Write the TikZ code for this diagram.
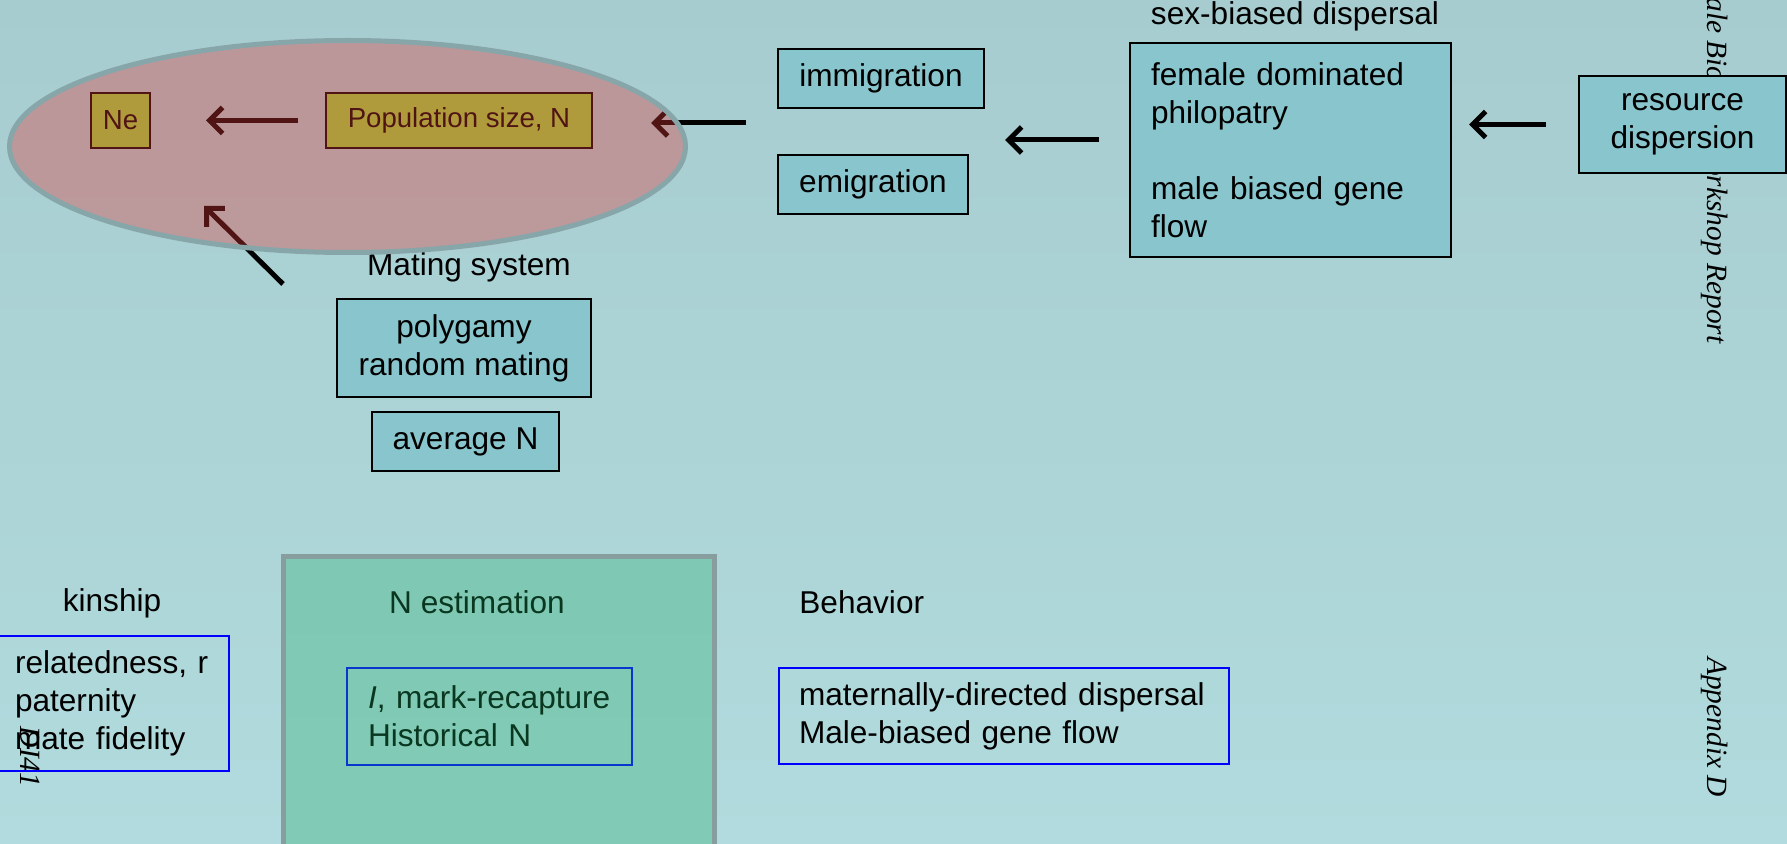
\documentclass[tikz,border=0pt]{standalone}
\usepackage{fontspec}
\setmainfont{Liberation Sans}
\newfontfamily\reportfont{Liberation Serif}
\usetikzlibrary{arrows.meta}

\definecolor{bgtop}{RGB}{167,204,207}
\definecolor{bgmid}{RGB}{158,191,196}
\definecolor{bgbot}{RGB}{177,219,222}
\definecolor{boxteal}{RGB}{136,197,205}
\definecolor{boxgreen}{RGB}{150,212,62}
\definecolor{boxblue}{RGB}{0,0,255}
\definecolor{ovred}{RGB}{222,56,56}
\definecolor{ringgray}{RGB}{135,166,170}
\definecolor{ovgreen}{RGB}{30,172,100}
\definecolor{rectgray}{RGB}{136,158,158}

\begin{document}
\begin{tikzpicture}[x=0.5pt, y=-0.5pt,
    font=\fontsize{15.8}{19}\selectfont,
    tealbox/.style={draw=black, line width=1pt, fill=boxteal, inner sep=0pt, align=center},
    olivebox/.style={draw=black, line width=1pt, fill=boxgreen, inner sep=0pt,
                     font=\fontsize{13.8}{16}\selectfont},
    bluebox/.style={draw=boxblue, line width=1pt, inner ysep=0pt, align=left,
                    font=\fontsize{15.8}{19}\selectfont},
    arr/.style={line width=2.5pt, -{Straight Barb[length=6.5pt, width=13pt]}},
    vtext/.style={rotate=-90, inner sep=0pt, font=\reportfont\itshape\fontsize{14.7}{17}\selectfont}]

    \useasboundingbox (0,0) rectangle (1787,844);

    % Background
    \fill[top color=bgtop, middle color=bgmid, bottom color=bgbot] (0,0) rectangle (1787,844);

    % Running heads on the margins
    \node[vtext, anchor=west] (rephead) at (1715,-3) {ale Biology Workshop Report};
    \node[vtext] (apphead) at (1715,727) {Appendix D};
    \node[vtext] (dfihead) at (30,757) {DI41};

    % Population size and Ne
    \node[olivebox, minimum width=29.5pt, minimum height=27.5pt] (ne) at (120.5,120.5) {Ne};
    \node[olivebox, minimum width=133pt, minimum height=27.5pt] (pop) at (459,120.5) {Population size, N};

    % Migration
    \node[tealbox, minimum width=103pt, minimum height=29.5pt] (imm) at (881,78.5) {immigration};
    \node[tealbox, minimum width=95pt, minimum height=29.5pt] (emi) at (873,184.5) {emigration};

    % Sex-biased dispersal
    \node (sexlbl) at (1295,16) {sex-biased dispersal};
    \node[tealbox, align=left, inner xsep=10.5pt, text width=139.5pt,
          minimum width=160.5pt, minimum height=107pt] (sex) at (1290.5,150)
        {female dominated\\philopatry\\[19pt]male biased gene\\flow};
    \node[tealbox, minimum width=103.5pt, minimum height=48.5pt] (res) at (1682.5,124.5)
        {resource\\dispersion};

    % Mating system
    \node (matlbl) at (469,267) {Mating system};
    \node[tealbox, minimum width=127pt, minimum height=49pt] (poly) at (464,348)
        {polygamy\\random mating};
    \node[tealbox, minimum width=93.5pt, minimum height=29.5pt] (avg) at (465.5,441.5) {average N};

    % Arrows
    \draw[arr, shorten <=13.5pt, shorten >=27.5pt] (pop.west) -- (ne.east);
    \coordinate (mig) at (746,123);
    \draw[arr, shorten >=29pt] (mig) -- (mig -| pop.east);
    \coordinate (split) at (1005,140);
    \draw[arr, shorten <=15pt] (sex.west |- split) -- (split);
    \draw[arr, shorten <=16pt, shorten >=8.5pt] (res.west) -- (sex.east |- res.west);
    \coordinate (mattail) at (283,284);
    \coordinate (mattip) at (204,206);
    \draw[arr] (mattail) -- (mattip);

    % Kinship
    \node (kinlbl) at (112,603) {kinship};
    \node[bluebox, inner xsep=9pt, text width=98pt, minimum width=116pt, minimum height=67.5pt] (kin)
        at (113,703.5) {relatedness, r\\paternity\\mate fidelity};

    % N estimation
    \node (nestlbl) at (477,602) {N estimation};
    \node[bluebox, inner xsep=10.5pt, text width=121.5pt, minimum width=142.5pt, minimum height=48.5pt] (inbox)
        at (489.5,716.5) {\mbox{\textit{I}, mark-recapture}\\Historical N};

    % Behavior
    \node[anchor=west, inner sep=0pt] (behlbl) at (799,602) {Behavior};
    \node[bluebox, inner xsep=10pt, text width=205pt, minimum width=225pt, minimum height=48pt] (beh)
        at (1004,716) {maternally-directed dispersal\\Male-biased gene flow};

    % Translucent ring and panel on top
    \fill[ovred, fill opacity=0.36] (347.5,146.5) ellipse [x radius=169pt, y radius=53pt];
    \draw[ringgray, line width=2.5pt] (347.5,146.5) ellipse [x radius=169pt, y radius=53pt];
    \fill[ovgreen, fill opacity=0.32] (283.5,556.5) rectangle (714.5,850);
    \draw[rectgray, line width=2.5pt] (283.5,556.5) rectangle (714.5,850);
\end{tikzpicture}
\end{document}
